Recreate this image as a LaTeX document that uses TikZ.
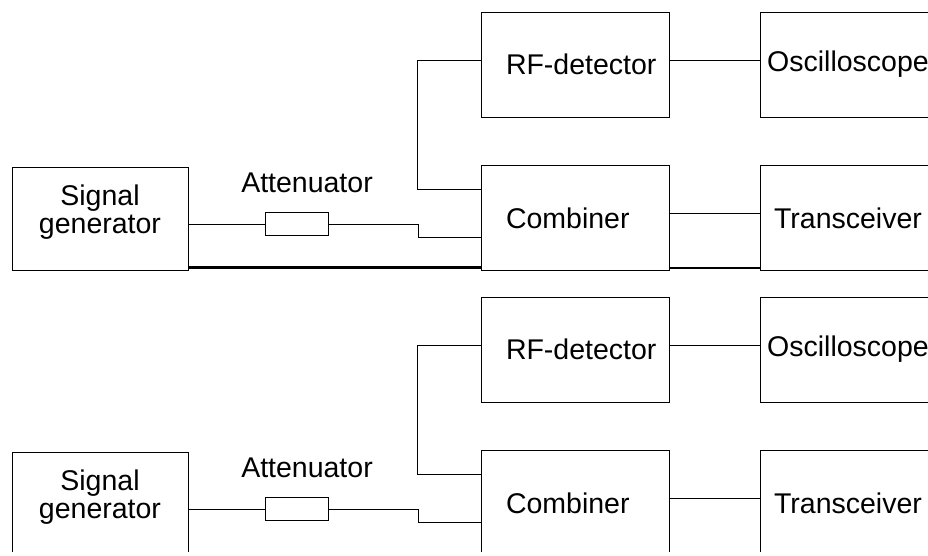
\documentclass[tikz,border=0pt]{standalone}
\usepackage{fontspec}
\setmainfont{Liberation Sans}
\usetikzlibrary{positioning}

\begin{document}
\begin{tikzpicture}[
 x=1pt, y=-1pt,
 font=\fontsize{28.5}{28}\selectfont,
 box/.style={draw, rectangle, line width=0.8pt, minimum width=188pt, minimum height=105pt, inner xsep=25pt, text width=138pt, align=left},
 endbox/.style={draw, rectangle, line width=0.8pt, minimum width=176pt, minimum height=105pt, align=center},
 genbox/.style={draw, rectangle, line width=0.8pt, minimum width=176pt, minimum height=103pt, text depth=18pt, align=center},
 attbox/.style={draw, rectangle, line width=0.8pt, minimum width=63pt, minimum height=23pt, inner sep=0pt},
 wire/.style={line width=0.8pt},
 bus/.style={line width=2.4pt}
]
\useasboundingbox (0,0) rectangle (928,555);
\clip (0,0) rectangle (928,551);

% upper setup
\node[genbox] (sgA) at (100,218.5) {Signal\\generator};
\node[attbox] (attA) at (296.5,224) {};
\node (attlblA) at (307,183) {Attenuator};
\node[box] (rfA) at (575,64.5) {\mbox{RF-detector}};
\node[box] (combA) at (575,218) {Combiner};
\node[endbox] (oscA) at (848,64.5) {Oscilloscope};
\node[endbox] (trxA) at (848,218) {Transceiver};

\draw[wire] (sgA.east |- attA.west) -- (attA.west);
\draw[wire] (attA.east) -- ++(90,0) |- ([yshift=-19pt]combA.west);
\draw[wire] ([yshift=4.5pt]rfA.west) -- ++(-63,0) |- ([yshift=29pt]combA.west);
\draw[wire] ([yshift=4.5pt]rfA.east) -- ([yshift=4.5pt]oscA.west);
\draw[wire] ([yshift=5pt]combA.east) -- ([yshift=5pt]trxA.west);
\draw[bus] ([yshift=3pt]sgA.south east) -- ([yshift=3pt]sgA.south east -| combA.west);
\draw[bus] ([yshift=3pt]combA.south east) -- ([yshift=3pt]trxA.south west);

% lower setup
\node[genbox] (sgB) at (100,503.5) {Signal\\generator};
\node[attbox] (attB) at (296.5,509) {};
\node (attlblB) at (307,468) {Attenuator};
\node[box] (rfB) at (575,349.5) {\mbox{RF-detector}};
\node[box] (combB) at (575,503) {Combiner};
\node[endbox] (oscB) at (848,349.5) {Oscilloscope};
\node[endbox] (trxB) at (848,503) {Transceiver};

\draw[wire] (sgB.east |- attB.west) -- (attB.west);
\draw[wire] (attB.east) -- ++(90,0) |- ([yshift=-19pt]combB.west);
\draw[wire] ([yshift=4.5pt]rfB.west) -- ++(-63,0) |- ([yshift=29pt]combB.west);
\draw[wire] ([yshift=4.5pt]rfB.east) -- ([yshift=4.5pt]oscB.west);
\draw[wire] ([yshift=5pt]combB.east) -- ([yshift=5pt]trxB.west);

\end{tikzpicture}
\end{document}
